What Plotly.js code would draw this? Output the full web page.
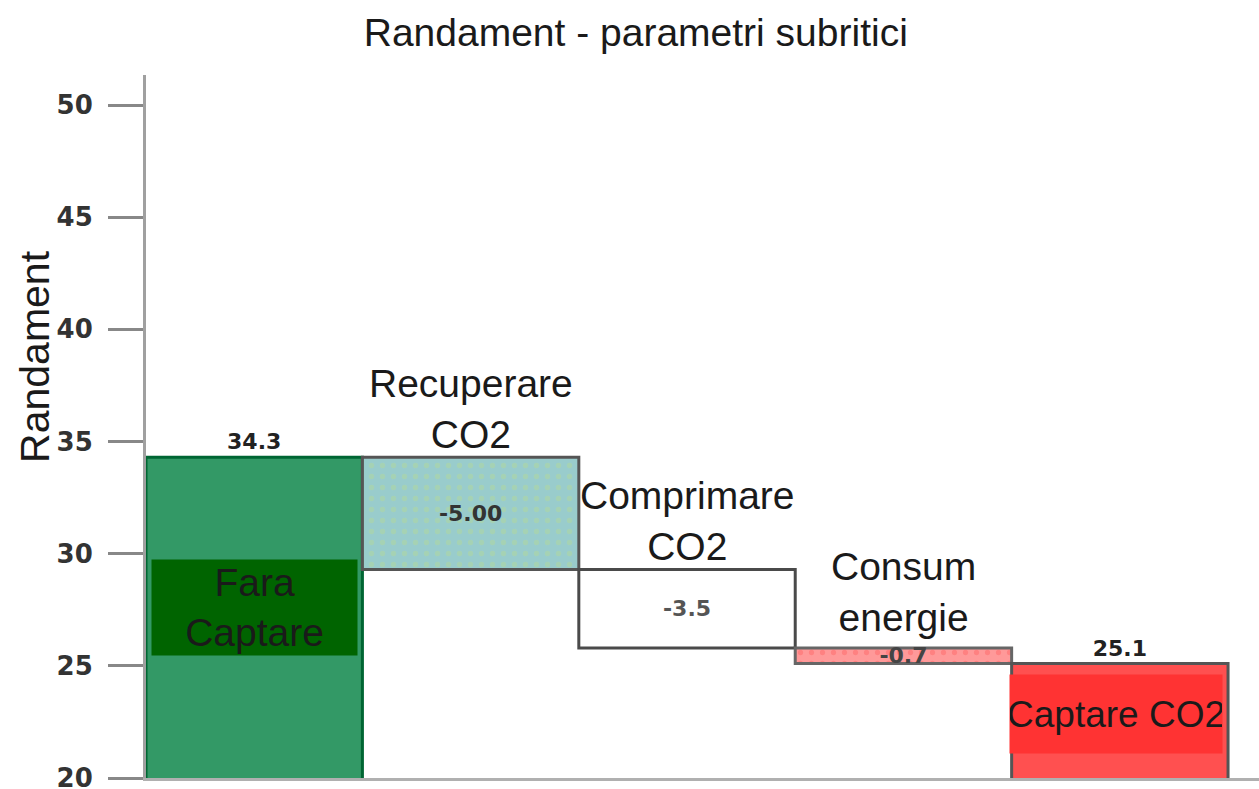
<!DOCTYPE html>
<html>
<head>
<meta charset="utf-8">
<script src="https://cdn.plot.ly/plotly-3.0.1.min.js"></script>
<style>
  html, body { margin: 0; padding: 0; background: #ffffff; }
  #chart { width: 1259px; height: 789px; }
</style>
</head>
<body>
<div id="chart"></div>
<script>
// Waterfall steps: starting efficiency, three losses, resulting efficiency
const categories = ["Fara Captare", "Recuperare CO2", "Comprimare CO2", "Consum energie", "Captare CO2"];
const startValue = 34.3;
const stepValues = [-5.00, -3.5, -0.7];
const labelDecimals = [1, 2, 1, 1, 1];
const yTicks = [20, 25, 30, 35, 40, 45, 50];

// Running totals -> bar bases and extents
const finalValue = stepValues.reduce((acc, v) => acc + v, startValue);
const barY = [startValue];
const barBase = [0];
let running = startValue;
stepValues.forEach(v => {
  barBase.push(running);
  barY.push(v);
  running += v;
});
barBase.push(0);
barY.push(finalValue);

const shownValues = [startValue, ...stepValues, finalValue];
const valueText = shownValues.map((v, i) => v.toFixed(labelDecimals[i]));
const barTops = barY.map((y, i) => Math.max(barBase[i], barBase[i] + y));

// Per-bar styling
const fills = ["#339966", "#99cccc", "#ffffff", "#ff9999", "#ff5050"];
const dotColors = [null, "#b1d79c", null, "#ff6a6a", null];
const edgeColors = ["#006633", "#555555", "#4a4a4a", "#666666", "#555555"];
const textPos = ["outside", "inside", "inside", "inside", "outside"];
const textColors = ["#222222", "#333333", "#555555", "#444444", "#222222"];

const traces = categories.map((cat, i) => {
  const marker = { color: fills[i], line: { color: edgeColors[i], width: 3 } };
  if (dotColors[i]) {
    marker.pattern = {
      shape: ".",
      fillmode: "overlay",
      bgcolor: fills[i],
      fgcolor: dotColors[i],
      size: 11,
      solidity: 0.18
    };
  }
  return {
    type: "bar",
    name: cat,
    x: [cat],
    y: [barY[i]],
    base: [barBase[i]],
    width: 1,
    text: [valueText[i]],
    textposition: textPos[i],
    insidetextanchor: "middle",
    constraintext: "none",
    textangle: 0,
    cliponaxis: false,
    textfont: { family: "DejaVu Sans", size: 22, color: textColors[i], weight: "bold" },
    marker: marker,
    hoverinfo: "skip",
    showlegend: false
  };
});

const catFont = { family: "Liberation Sans, Arial, sans-serif", size: 39, color: "#1a1a1a" };
const aboveShift = [0, 0, 0, 8, 0];

// Category names sitting above each loss bar
const aboveLabels = [1, 2, 3].map(i => ({
  x: categories[i], xref: "x",
  y: barTops[i], yref: "y",
  yanchor: "bottom",
  yshift: aboveShift[i],
  text: categories[i].replace(" ", "<br>"),
  showarrow: false,
  font: catFont,
  borderpad: 0
}));

const annotations = [
  ...aboveLabels,
  {
    x: categories[0], xref: "x", y: 27.6, yref: "y",
    text: "Fara<br>Captare", showarrow: false,
    font: catFont, bgcolor: "#006400",
    width: 205, height: 95, borderpad: 0
  },
  {
    x: categories[4], xref: "x", y: 22.85, yref: "y", xshift: -4,
    text: "Captare CO2", showarrow: false,
    font: { family: "Liberation Sans, Arial, sans-serif", size: 37, color: "#1a1a1a" },
    bgcolor: "#ff3333",
    width: 212, height: 78, borderpad: 0
  },
  {
    x: 0, xref: "paper", xanchor: "center", xshift: -111,
    y: 0.599, yref: "paper", yanchor: "middle",
    text: "Randament", textangle: -90, showarrow: false,
    font: { family: "Liberation Sans, Arial, sans-serif", size: 41, color: "#1a1a1a" }
  }
];

const layout = {
  width: 1259,
  height: 789,
  paper_bgcolor: "#ffffff",
  plot_bgcolor: "#ffffff",
  margin: { l: 146, r: 0, t: 75, b: 11 },
  barmode: "overlay",
  bargap: 0,
  title: {
    text: "Randament - parametri subritici",
    font: { family: "Liberation Sans, Arial, sans-serif", size: 39, color: "#1a1a1a" },
    x: 0.505, xref: "container", xanchor: "center",
    y: 0.959, yref: "container", yanchor: "middle"
  },
  xaxis: {
    type: "category",
    categoryarray: categories,
    categoryorder: "array",
    range: [-0.5, 4.643],
    showticklabels: false,
    ticks: "",
    showgrid: false,
    zeroline: false,
    showline: true,
    linecolor: "#b0b0b0",
    linewidth: 3,
    fixedrange: true
  },
  yaxis: {
    range: [20, 51.34],
    tickvals: yTicks,
    ticktext: yTicks.map(String),
    ticks: "outside",
    ticklen: 35,
    tickwidth: 3,
    tickcolor: "#888888",
    ticklabelstandoff: 10,
    ticklabeloverflow: "allow",
    tickfont: { family: "DejaVu Sans", size: 26, color: "#333333", weight: "bold" },
    showgrid: false,
    zeroline: false,
    showline: true,
    linecolor: "#a0a0a0",
    linewidth: 3,
    fixedrange: true
  },
  annotations: annotations
};

Plotly.newPlot("chart", traces, layout, { displayModeBar: false, staticPlot: true });
</script>
</body>
</html>
